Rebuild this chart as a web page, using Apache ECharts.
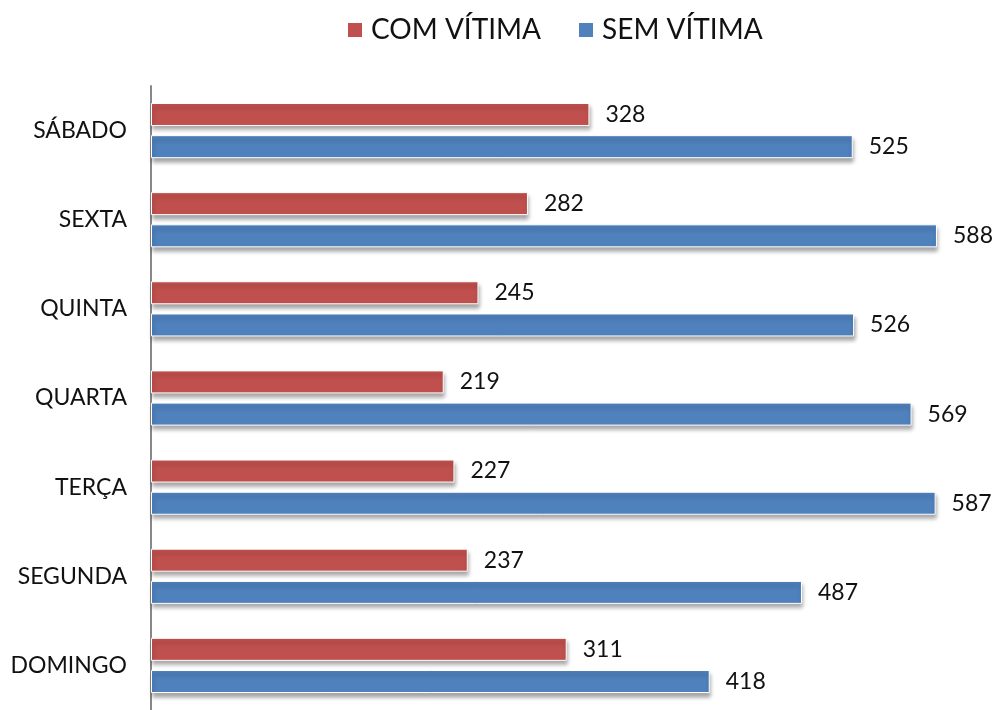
<!DOCTYPE html>
<html lang="pt">
<head>
    <meta charset="UTF-8">
    <title>Acidentes por dia da semana</title>
    <script src="https://cdn.jsdelivr.net/npm/echarts@6/dist/echarts.min.js"></script>
    <style>
        html, body { margin: 0; padding: 0; background: #fff; }
        #main { width: 995px; height: 710px; }
    </style>
</head>
<body>
<div id="main"></div>
<script type="text/javascript">
    // dados (de baixo para cima)
    var dias = ['DOMINGO', 'SEGUNDA', 'TERÇA', 'QUARTA', 'QUINTA', 'SEXTA', 'SÁBADO'];
    var comVitima = [311, 237, 227, 219, 245, 282, 328];
    var semVitima = [418, 487, 587, 569, 526, 588, 525];

    var fonte = 'Lato, "Open Sans", sans-serif';
    var myChart = echarts.init(document.getElementById('main'));

    function serie(nome, cor, dados) {
        return {
            name: nome,
            type: 'bar',
            data: dados,
            barWidth: 23,
            barGap: '40%',
            itemStyle: {
                color: cor,
                borderColor: '#fff',
                borderWidth: 1,
                shadowColor: 'rgba(0,0,0,0.35)',
                shadowBlur: 4,
                shadowOffsetX: 1,
                shadowOffsetY: 4
            },
            label: {
                show: true,
                position: 'right',
                distance: 16,
                color: '#111',
                fontSize: 23,
                fontFamily: fonte
            }
        };
    }

    var option = {
        animation: false,
        legend: {
            top: 11,
            left: 341,
            itemWidth: 16,
            itemHeight: 16,
            itemGap: 36,
            icon: 'rect',
            textStyle: { fontSize: 28, color: '#111', fontFamily: fonte, padding: [0, 0, 0, 3] },
            data: ['COM VÍTIMA', 'SEM VÍTIMA']
        },
        grid: {
            left: 151,
            top: 86,
            width: 802,
            height: 633
        },
        xAxis: {
            type: 'value',
            min: 0,
            max: 600,
            show: false
        },
        yAxis: {
            type: 'category',
            data: dias,
            axisLine: { show: true, lineStyle: { color: '#888', width: 2 } },
            axisTick: { show: false },
            axisLabel: {
                margin: 24,
                fontSize: 23,
                color: '#111',
                fontFamily: fonte
            }
        },
        series: [
            serie('COM VÍTIMA', '#C0504D', comVitima),
            serie('SEM VÍTIMA', '#4F81BD', semVitima)
        ]
    };

    myChart.setOption(option);
</script>
</body>
</html>
